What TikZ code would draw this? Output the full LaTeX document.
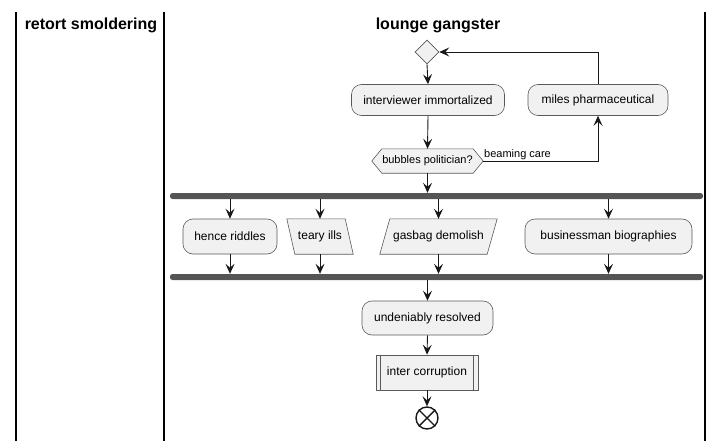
\documentclass[tikz,border=0pt]{standalone}
\usepackage{fontspec}
\setmainfont{Liberation Sans}
\usetikzlibrary{arrows.meta,shapes.geometric,backgrounds}
\definecolor{boxfill}{HTML}{F1F1F1}
\definecolor{boxline}{HTML}{5A5A5A}
\definecolor{barcol}{HTML}{555555}
\definecolor{ink}{HTML}{181818}
\tikzset{
  lane/.style={line width=1.2pt, black},
  lanetitle/.style={font=\bfseries\fontsize{16}{18}\selectfont, inner sep=0pt},
  act/.style={draw=boxline, fill=boxfill, line width=0.6pt, rounded corners=10pt,
    minimum height=34pt, inner sep=0pt, font=\fontsize{12}{14}\selectfont},
  plain/.style={inner sep=0pt, font=\fontsize{12}{14}\selectfont},
  shapeline/.style={draw=boxline, fill=boxfill, line width=0.6pt},
  bar/.style={fill=barcol, rounded corners=2.5pt, minimum height=6pt, inner sep=0pt},
  flow/.style={draw=ink, line width=0.9pt, -{Stealth[length=10pt,width=9pt,inset=4pt]}},
  flowline/.style={draw=ink, line width=0.9pt},
  small/.style={font=\fontsize{11}{13}\selectfont, inner sep=0pt},
}
\begin{document}
\begin{tikzpicture}[x=1pt,y=-1pt]
\useasboundingbox (0,0) rectangle (725,441);
% swimlanes
\draw[lane] (16,12) -- (16,441);
\draw[lane] (164,12) -- (164,441);
\draw[lane] (705,12) -- (705,441);
\node[lanetitle] (t1) at (91,25) {retort smoldering};
\node[lanetitle] (t2) at (438,25) {lounge gangster};

% nodes
\node[diamond, shapeline, minimum width=24pt, minimum height=24pt, inner sep=0pt] (d) at (427,52) {};
\node[act, minimum width=153pt, minimum height=31pt] (iv) at (428,100) {interviewer immortalized};
\node[act, minimum width=140pt, minimum height=31pt] (mp) at (598,100) {miles pharmaceutical};
\node[small, minimum width=111pt, minimum height=24pt] (hx) at (427.5,161) {bubbles politician?};
\begin{scope}[on background layer]
\path[shapeline] (hx.west) -- ([xshift=10pt]hx.north west) -- ([xshift=-10pt]hx.north east) -- (hx.east)
   -- ([xshift=-10pt]hx.south east) -- ([xshift=10pt]hx.south west) -- cycle;
\end{scope}
\node[small, anchor=south west] (bc) at (484,160) {beaming care};

\node[bar, minimum width=533pt] (fork) at (436.5,196) {};
\node[bar, minimum width=533pt] (join) at (436.5,277) {};

\node[act, minimum width=94pt, minimum height=35pt] (hr) at (230,236.5) {hence riddles};
\node[plain, minimum width=66pt, minimum height=35pt] (ti) at (320,236.5) {teary ills};
\node[plain, minimum width=117pt, minimum height=35pt] (gd) at (438.5,236.5) {gasbag demolish};
\node[act, minimum width=167pt, minimum height=35pt] (bb) at (608.5,236.5) {businessman biographies};
\begin{scope}[on background layer]
\path[shapeline] (ti.north west) -- ([xshift=-8pt]ti.north east) -- (ti.south east) -- ([xshift=8pt]ti.south west) -- cycle;
\path[shapeline] ([xshift=10pt]gd.north west) -- (gd.north east) -- ([xshift=-10pt]gd.south east) -- (gd.south west) -- cycle;
\end{scope}

\node[act, minimum width=131pt, minimum height=34pt] (ur) at (427.5,318) {undeniably resolved};
\node[plain, shapeline, minimum width=102pt, minimum height=35pt] (ic) at (427,372.5) {inter corruption};
\draw[boxline, line width=0.6pt] ([xshift=5pt]ic.north west) -- ([xshift=5pt]ic.south west);
\draw[boxline, line width=0.6pt] ([xshift=-5pt]ic.north east) -- ([xshift=-5pt]ic.south east);
\node[circle, draw=ink, fill=white, line width=1.4pt, minimum size=22pt, inner sep=0pt] (end) at (427,418) {};
\draw[ink, line width=1.4pt] (end.north west) -- (end.south east) (end.north east) -- (end.south west);

% connectors
\draw[flow] (d.south) -- (iv.north);
\draw[flow] (iv.south) -- (hx.north);
\draw[flow] (hx.east) -| (mp.south);
\draw[flow] (mp.north) |- (d.east);
\draw[flow] (hx.south) -- (fork.north -| hx.south);
\draw[flow] (fork.south -| hr.north) -- (hr.north);
\draw[flow] (fork.south -| ti.north) -- (ti.north);
\draw[flow] (fork.south -| gd.north) -- (gd.north);
\draw[flow] (fork.south -| bb.north) -- (bb.north);
\draw[flow] (hr.south) -- (hr.south |- join.north);
\draw[flow] (ti.south) -- (ti.south |- join.north);
\draw[flow] (gd.south) -- (gd.south |- join.north);
\draw[flow] (bb.south) -- (bb.south |- join.north);
\draw[flow] (join.south -| ur.north) -- (ur.north);
\draw[flow] (ur.south) -- (ic.north);
\draw[flow] (ic.south) -- (end.north);
\end{tikzpicture}
\end{document}
